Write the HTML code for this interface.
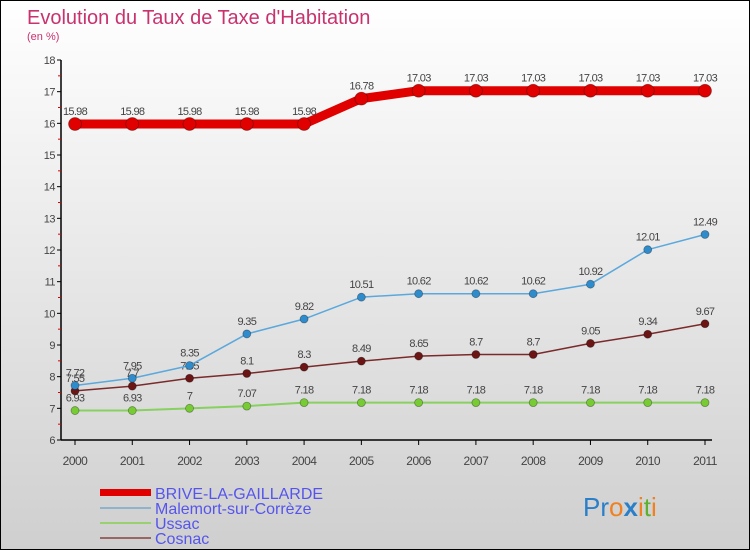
<!DOCTYPE html>
<html><head><meta charset="utf-8"><style>
html,body{margin:0;padding:0}
body{width:750px;height:550px;overflow:hidden;font-family:"Liberation Sans",sans-serif}
#wrap{position:absolute;left:0;top:0;width:748px;height:548px;border:1px solid #000;background:linear-gradient(#ffffff,#cfcfcf)}
</style></head><body>
<div id="wrap">
<svg id="chart" width="750" height="550" style="position:absolute;left:-1px;top:-1px">
<text x="27" y="24" font-size="20" fill="#c8326e">Evolution du Taux de Taxe d'Habitation</text>
<text x="27" y="40" font-size="11" fill="#c8326e">(en %)</text>
<g id="axes"></g><g id="series"></g>
<g>
<rect x="100" y="489" width="51" height="7" fill="#e00000"/>
<text x="155" y="499" font-size="16" fill="#5555ee">BRIVE-LA-GAILLARDE</text>
<line x1="100" y1="508" x2="151" y2="508" stroke="#8fb3cc" stroke-width="2"/>
<text x="155" y="514" font-size="16" fill="#5555ee">Malemort-sur-Corrèze</text>
<line x1="100" y1="523" x2="151" y2="523" stroke="#99d070" stroke-width="2"/>
<text x="155" y="529" font-size="16" fill="#5555ee">Ussac</text>
<line x1="100" y1="538" x2="151" y2="538" stroke="#996666" stroke-width="2"/>
<text x="155" y="544" font-size="16" fill="#5555ee">Cosnac</text>
</g>
<text x="583" y="516" font-size="26"><tspan fill="#2a7fc8">Pr</tspan><tspan fill="#f08020">o</tspan><tspan fill="#2a7fc8" font-weight="bold">x</tspan><tspan fill="#f08020">i</tspan><tspan fill="#60b030">t</tspan><tspan fill="#f08020">i</tspan></text>
</svg></div>
<script>
const years=[2000,2001,2002,2003,2004,2005,2006,2007,2008,2009,2010,2011];
const brive=[15.98,15.98,15.98,15.98,15.98,16.78,17.03,17.03,17.03,17.03,17.03,17.03];
const malemort=[7.72,7.95,8.35,9.35,9.82,10.51,10.62,10.62,10.62,10.92,12.01,12.49];
const ussac=[6.93,6.93,7,7.07,7.18,7.18,7.18,7.18,7.18,7.18,7.18,7.18];
const cosnac=[7.55,7.7,7.95,8.1,8.3,8.49,8.65,8.7,8.7,9.05,9.34,9.67];
const yTicks=[6,7,8,9,10,11,12,13,14,15,16,17,18];
const NS='http://www.w3.org/2000/svg';
const X=i=>75+i*(630/11), Y=v=>440-(v-6)*(380/12);
const ax=document.getElementById('axes'), sg=document.getElementById('series');
function mk(t,a,p){const e=document.createElementNS(NS,t);for(const k in a)e.setAttribute(k,a[k]);p.appendChild(e);return e;}
let e=mk('line',{x1:61,y1:Y(18),x2:61,y2:440,stroke:'#000','stroke-width':1.5},ax);


e=mk('line',{x1:61,y1:440,x2:712,y2:440,stroke:'#000','stroke-width':1.5},ax);


yTicks.forEach((v,i)=>{
 mk('line',{x1:57,y1:Y(v),x2:61,y2:Y(v),stroke:'#000'},ax);
 if(i<yTicks.length-1)mk('line',{x1:58,y1:Y(v+0.5),x2:61,y2:Y(v+0.5),stroke:'#e00000'},ax);
 const t=mk('text',{x:55,y:Y(v)+4,'font-size':11,fill:'#444','text-anchor':'end','letter-spacing':'-0.5'},ax);t.textContent=v;
 
 
});
years.forEach((y,i)=>{
 mk('line',{x1:X(i),y1:440,x2:X(i),y2:445,stroke:'#000'},ax);
 const t=mk('text',{x:X(i),y:465,'font-size':12,fill:'#444','text-anchor':'middle','letter-spacing':'-0.5'},ax);t.textContent=y;
 
 
});
function series(name,data,lc,lw,pc,r){
 const g=mk('g',{},sg);
 
 
 mk('polyline',{points:data.map((v,i)=>X(i)+','+Y(v)).join(' '),fill:'none',stroke:lc,'stroke-width':lw,'stroke-linejoin':'round'},g);
 data.forEach((v,i)=>{
  const c=mk('circle',{cx:X(i),cy:Y(v),r:r,fill:pc,stroke:'rgba(0,0,0,0.35)','stroke-width':0.8},g);
  
  
  const t=mk('text',{x:X(i),y:Y(v)-9,'font-size':11,fill:'#444','text-anchor':'middle','letter-spacing':'-0.7'},g);t.textContent=v;
  
  
 });
}
series('ussac',ussac,'#88d060',2,'#77cc33',4);
series('cosnac',cosnac,'#7a2a2a',1.5,'#6b1515',4);
series('malemort',malemort,'#5aa8dc',1.5,'#2f8ccc',4);
series('brive',brive,'#e00000',9,'#e00000',6.5);
</script>
</body></html>
